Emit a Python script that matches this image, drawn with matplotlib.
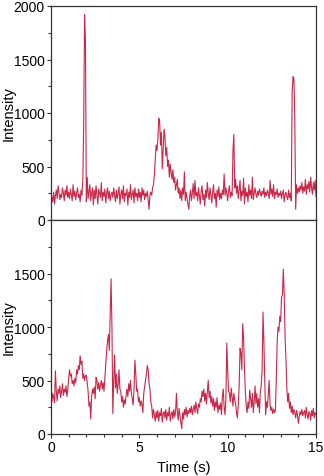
import numpy as np
import matplotlib.pyplot as plt
from matplotlib.ticker import MultipleLocator

plt.rcParams["font.family"] = ["Liberation Sans", "DejaVu Sans"]

DT = 0.05  # sampling step (s)

# top trace, one row per second
top_intensity = [
    240, 210, 170, 260, 150, 230, 280, 200, 320, 260, 190, 240, 210, 300, 250, 180, 280, 230, 320, 210,
    260, 200, 290, 240, 180, 330, 220, 270, 190, 250, 300, 210, 240, 170, 280, 230, 370, 900, 1920, 1680,
    170, 400, 200, 260, 330, 180, 250, 300, 140, 280, 200, 320, 230, 150, 290, 250, 210, 350, 180, 260,
    220, 290, 160, 250, 300, 200, 270, 180, 240, 260, 210, 300, 230, 170, 280, 200, 250, 310, 150, 240,
    280, 200, 320, 170, 250, 230, 290, 140, 260, 210, 330, 190, 240, 280, 160, 300, 220, 250, 180, 290,
    210, 260, 170, 300, 230, 280, 190, 250, 220, 270, 180, 100, 240, 260, 230, 300, 330, 420, 560, 700,
    650, 760, 950, 920, 700, 820, 480, 650, 850, 780, 600, 680, 500, 560, 400, 520, 440, 380, 470, 350,
    400, 280, 330, 380, 250, 300, 200, 280, 180, 300, 240, 450, 180, 260, 200, 150, 100, 220, 280, 180,
    250, 340, 200, 370, 230, 260, 180, 300, 220, 150, 270, 320, 190, 240, 130, 280, 210, 350, 250, 190,
    300, 230, 160, 260, 330, 200, 250, 120, 280, 220, 310, 190, 250, 200, 280, 240, 430, 230, 300, 250,
    180, 270, 320, 210, 260, 230, 650, 800, 300, 380, 250, 320, 200, 290, 370, 180, 270, 230, 390, 150,
    300, 220, 260, 170, 330, 230, 280, 200, 400, 190, 250, 300, 240, 210, 270, 230, 290, 250, 220, 270,
    240, 300, 210, 260, 230, 280, 250, 200, 370, 240, 290, 220, 330, 200, 260, 240, 290, 210, 250, 230,
    270, 200, 250, 280, 170, 240, 260, 220, 190, 280, 210, 250, 180, 1200, 1340, 1320, 950, 100, 330, 250,
    300, 260, 320, 280, 350, 250, 310, 270, 380, 240, 330, 290, 360, 260, 400, 300, 240, 350, 280, 370,
    220,
]

# bottom trace, one row per second
bottom_intensity = [
    330, 300, 380, 340, 290, 590, 400, 310, 420, 380, 450, 340, 400, 470, 360, 420, 390, 450, 350, 410,
    520, 600, 540, 560, 470, 500, 450, 520, 480, 600, 560, 640, 600, 730, 650, 680, 520, 560, 500, 540,
    550, 480, 400, 260, 300, 140, 350, 420, 380, 440, 330, 530, 500, 420, 480, 400, 460, 500, 420, 480,
    400, 520, 650, 780, 870, 930, 780, 1100, 1450, 1000, 190, 500, 740, 430, 560, 380, 460, 600, 420, 400,
    300, 350, 250, 320, 280, 360, 420, 350, 470, 400, 500, 380, 330, 270, 420, 690, 560, 400, 420, 300,
    340, 260, 310, 280, 200, 380, 440, 500, 560, 640, 600, 470, 420, 300, 260, 150, 230, 180, 120, 210,
    150, 220, 120, 200, 170, 240, 110, 190, 210, 150, 230, 130, 200, 170, 250, 120, 180, 210, 140, 230,
    160, 200, 380, 210, 130, 240, 170, 110, 50, 200, 140, 230, 180, 250, 160, 220, 190, 240, 200, 260,
    180, 230, 270, 200, 300, 240, 190, 280, 250, 330, 300, 400, 350, 420, 310, 380, 280, 400, 500, 340,
    400, 290, 350, 260, 330, 220, 300, 250, 340, 200, 270, 230, 290, 180, 350, 420, 250, 180, 320, 850,
    600, 400, 380, 300, 430, 340, 260, 380, 320, 280, 200, 150, 270, 450, 800, 760, 600, 1030, 900, 620,
    400, 260, 200, 300, 240, 410, 330, 250, 380, 200, 300, 450, 280, 380, 250, 330, 200, 400, 450, 600,
    1140, 870, 500, 180, 300, 250, 380, 500, 270, 220, 250, 190, 230, 200, 220, 500, 850, 1000, 960, 1100,
    1050, 1280, 1300, 1540, 1320, 900, 700, 420, 300, 380, 240, 300, 200, 260, 180, 230, 200, 150, 220, 180,
    100, 160, 210, 180, 230, 170, 200, 220, 150, 250, 180, 140, 210, 190, 130, 220, 170, 240, 150, 200,
    180,
]

LINE_COLOR = "#c8284a"
SPINE_COLOR = "#333333"


def style_axis(ax, yticks):
    ax.set_xlim(0, 15)
    ax.set_ylim(0, 2000)
    ax.set_yticks(yticks)
    ax.xaxis.set_major_locator(MultipleLocator(5))
    ax.xaxis.set_minor_locator(MultipleLocator(1))
    ax.yaxis.set_minor_locator(MultipleLocator(250))
    ax.tick_params(which="major", direction="out", length=3, width=0.8, pad=1.5,
                   colors=SPINE_COLOR, labelsize=10, labelcolor="black")
    ax.tick_params(which="minor", direction="out", length=2, width=0.8,
                   colors=SPINE_COLOR)
    for s in ax.spines.values():
        s.set_color(SPINE_COLOR)
        s.set_linewidth(0.9)
    ax.set_ylabel("Intensity", fontsize=10.5)
    ax.yaxis.set_label_coords(-0.135, 0.5)


def main():
    fig = plt.figure(figsize=(3.24, 4.77), dpi=100)
    W, H = 324, 477
    x0, x1 = 51, 316
    ax_top = fig.add_axes([x0 / W, (H - 221) / H, (x1 - x0) / W, 214 / H])
    ax_bot = fig.add_axes([x0 / W, (H - 435) / H, (x1 - x0) / W, 214 / H])

    t_top = np.arange(len(top_intensity)) * DT
    t_bot = np.arange(len(bottom_intensity)) * DT

    ax_top.plot(t_top, top_intensity, color=LINE_COLOR, lw=0.8)
    ax_bot.plot(t_bot, bottom_intensity, color=LINE_COLOR, lw=0.8)

    style_axis(ax_top, [0, 500, 1000, 1500, 2000])
    style_axis(ax_bot, [0, 500, 1000, 1500])
    ax_top.tick_params(axis="x", labelbottom=False)
    ax_bot.set_xlabel("Time (s)", fontsize=10.5, labelpad=4)

    fig.savefig("out.png", dpi=100)
    plt.close(fig)


if __name__ == "__main__":
    main()
